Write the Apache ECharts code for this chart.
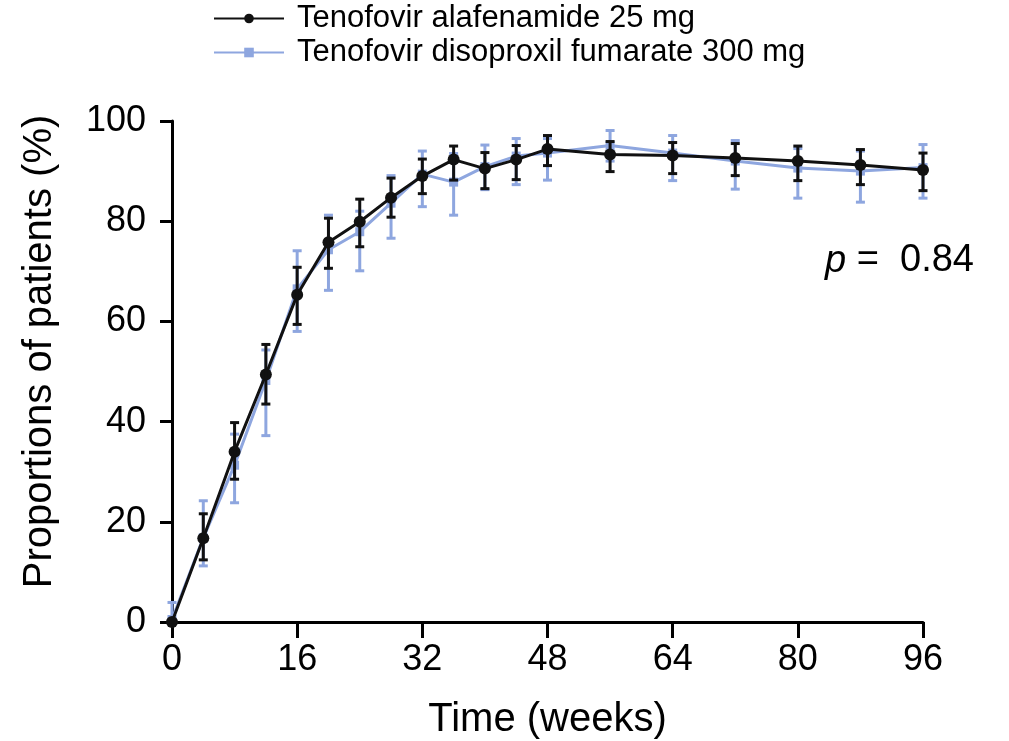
<!DOCTYPE html>
<html>
<head>
<meta charset="utf-8">
<script src="https://cdn.jsdelivr.net/npm/echarts@6/dist/echarts.min.js"></script>
<style>
  html, body { margin: 0; padding: 0; background: #fff; }
  #chart { width: 1009px; height: 741px; }
</style>
</head>
<body>
<div id="chart"></div>
<script>
// weeks on the x axis
const weeks = [0, 4, 8, 12, 16, 20, 24, 28, 32, 36, 40, 44, 48, 56, 64, 72, 80, 88, 96]
// Tenofovir alafenamide 25 mg
const tafMean = [0, 16.7, 34.0, 49.4, 65.3, 75.8, 79.9, 84.7, 89.0, 92.3, 90.5, 92.3, 94.4, 93.3, 93.1, 92.6, 92.0, 91.2, 90.2]
const tafLow = [0, 12.4, 28.5, 43.5, 59.4, 70.6, 74.9, 80.8, 85.5, 88.2, 86.5, 88.3, 91.1, 89.9, 89.5, 89.1, 88.1, 87.3, 86.1]
const tafHigh = [0, 21.6, 39.8, 55.4, 70.8, 80.6, 84.4, 88.6, 92.4, 95.0, 93.7, 95.1, 97.1, 95.9, 95.7, 95.5, 95.0, 94.3, 93.6]
// Tenofovir disoproxil fumarate 300 mg
const tdfMean = [0.5, 16.8, 31.3, 48.2, 66.5, 74.3, 77.9, 83.6, 89.4, 87.8, 90.9, 93.0, 93.6, 95.1, 93.6, 92.0, 90.6, 90.0, 90.7]
const tdfLow = [0, 11.2, 23.8, 37.2, 58.0, 66.2, 70.1, 76.6, 82.9, 81.2, 86.3, 87.3, 88.2, 92.0, 88.1, 86.4, 84.6, 83.8, 84.6]
const tdfHigh = [3.9, 24.2, 37.5, 54.3, 74.1, 81.2, 82.0, 89.1, 94.0, 93.5, 95.2, 96.5, 96.5, 98.1, 97.1, 96.1, 94.5, 94.0, 95.3]
// axis ticks
const xTicks = [0, 16, 32, 48, 64, 80, 96]
const yTicks = [0, 20, 40, 60, 80, 100]

const tafName = 'Tenofovir alafenamide 25 mg'
const tdfName = 'Tenofovir disoproxil fumarate 300 mg'
const black = '#111111'
const blue = '#8EA6DF'
const font = "'Liberation Sans', Arial, sans-serif"

const chart = echarts.init(document.getElementById('chart'))

// 误差线
function errorBars(color, width) {
  return function (params, api) {
    const x = api.value(0)
    const top = api.coord([x, api.value(2)])
    const bot = api.coord([x, api.value(1)])
    const cap = 4.5
    const style = { stroke: color, lineWidth: width }
    return {
      type: 'group',
      children: [
        { type: 'line', shape: { x1: top[0], y1: top[1], x2: bot[0], y2: bot[1] }, style: style },
        { type: 'line', shape: { x1: top[0] - cap, y1: top[1], x2: top[0] + cap, y2: top[1] }, style: style },
        { type: 'line', shape: { x1: bot[0] - cap, y1: bot[1], x2: bot[0] + cap, y2: bot[1] }, style: style },
      ]
    }
  }
}

const option = {
  animation: false,
  textStyle: { fontFamily: font },
  grid: { left: 172, right: 86, top: 121, bottom: 119, outerBoundsMode: 'none' },
  legend: {
    data: [tafName, tdfName],
    orient: 'vertical',
    left: 213,
    top: 3,
    padding: 0,
    itemWidth: 70,
    itemHeight: 12,
    itemGap: 3,
    textStyle: { fontSize: 31, color: '#000', fontFamily: font, padding: [0, 0, 0, 8] },
  },
  xAxis: {
    type: 'value',
    min: 0,
    max: 96,
    interval: 16,
    name: 'Time (weeks)',
    nameLocation: 'middle',
    nameGap: 78,
    nameTextStyle: { fontSize: 40, color: '#000', fontFamily: font },
    axisLine: { onZero: false, lineStyle: { color: '#000', width: 3 } },
    axisTick: { length: 16, lineStyle: { color: '#000', width: 3 } },
    axisLabel: { fontSize: 36, color: '#000', margin: 20, fontFamily: font,
      customValues: xTicks },
    splitLine: { show: false },
  },
  yAxis: {
    type: 'value',
    min: 0,
    max: 100,
    interval: 20,
    name: 'Proportions of patients (%)',
    nameLocation: 'middle',
    nameGap: 112,
    nameTextStyle: { fontSize: 40, color: '#000', fontFamily: font, padding: [0, 0, 0, 40] },
    axisLine: { show: true, lineStyle: { color: '#000', width: 3 } },
    axisTick: { show: true, length: 12, lineStyle: { color: '#000', width: 3 },
      customValues: yTicks },
    axisLabel: { fontSize: 36, color: '#000', margin: 26, fontFamily: font,
      customValues: yTicks },
    splitLine: { show: false },
  },
  graphic: [{
    type: 'text',
    left: 825,
    top: 242,
    style: {
      text: '{i|p} =  0.84',
      font: '38px ' + font,
      fill: '#000',
      rich: {
        i: { fontStyle: 'italic', fontSize: 38, fontFamily: font, fill: '#000' }
      }
    }
  }],
  series: [
    {
      name: tdfName,
      type: 'line',
      data: weeks.map((w, i) => [w, tdfMean[i]]),
      symbol: 'rect',
      symbolSize: 9,
      itemStyle: { color: blue },
      lineStyle: { color: blue, width: 3 },
      z: 2,
    },
    {
      name: 'tdf-err',
      type: 'custom',
      data: weeks.map((w, i) => [w, tdfLow[i], tdfHigh[i]]),
      renderItem: errorBars(blue, 3),
      encode: { x: 0, y: [1, 2] },
      z: 3,
    },
    {
      name: tafName,
      type: 'line',
      data: weeks.map((w, i) => [w, tafMean[i]]),
      symbol: 'circle',
      symbolSize: 12,
      itemStyle: { color: black },
      lineStyle: { color: black, width: 3 },
      z: 4,
    },
    {
      name: 'taf-err',
      type: 'custom',
      data: weeks.map((w, i) => [w, tafLow[i], tafHigh[i]]),
      renderItem: errorBars(black, 3),
      encode: { x: 0, y: [1, 2] },
      z: 5,
    },
  ],
}

chart.setOption(option)
</script>
</body>
</html>
